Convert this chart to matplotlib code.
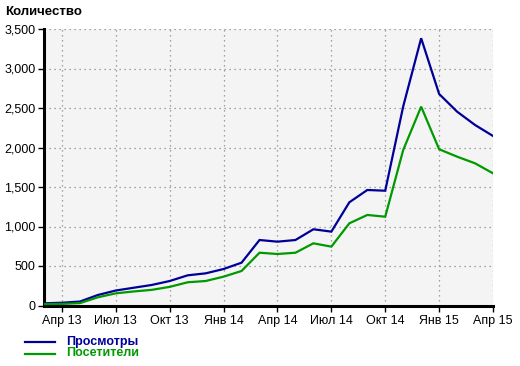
import matplotlib
matplotlib.use("Agg")
import matplotlib.pyplot as plt
from matplotlib.lines import Line2D
from matplotlib.ticker import FuncFormatter

plt.rcParams['font.family'] = ['Liberation Sans', 'DejaVu Sans']

# monthly points, Mar 2013 .. Apr 2015
months = ["Мар 13", "Апр 13", "Май 13", "Июн 13", "Июл 13", "Авг 13", "Сен 13", "Окт 13",
          "Ноя 13", "Дек 13", "Янв 14", "Фев 14", "Мар 14", "Апр 14", "Май 14", "Июн 14",
          "Июл 14", "Авг 14", "Сен 14", "Окт 14", "Ноя 14", "Дек 14", "Янв 15", "Фев 15",
          "Мар 15", "Апр 15"]
views = [28, 35, 50, 133, 190, 225, 260, 310, 382, 407, 462, 542, 829, 808, 829, 965,
         935, 1306, 1462, 1453, 2520, 3383, 2678, 2454, 2285, 2146]
visitors = [18, 20, 30, 104, 154, 178, 198, 236, 294, 310, 365, 437, 668, 652, 668, 787,
            745, 1040, 1146, 1124, 1968, 2517, 1978, 1884, 1800, 1673]
series_names = ["Просмотры", "Посетители"]
colors = ["#000099", "#009900"]
tick_labels = ["Апр 13", "Июл 13", "Окт 13", "Янв 14", "Апр 14", "Июл 14", "Окт 14", "Янв 15", "Апр 15"]
y_ticks = [0, 500, 1000, 1500, 2000, 2500, 3000, 3500]

W, H = 520, 366
fig = plt.figure(figsize=(W / 100, H / 100), dpi=100)
fig.patch.set_facecolor("white")
ax = fig.add_axes([44 / W, 1 - 305.5 / H, (493 - 44) / W, (305.5 - 29) / H])
ax.set_facecolor("#f4f4f4")

x = list(range(len(months)))
ax.plot(x, views, color=colors[0], lw=1.6, solid_joinstyle="miter", zorder=3)
ax.plot(x, visitors, color=colors[1], lw=1.6, solid_joinstyle="miter", zorder=3)

ax.set_xlim(0, len(months) - 1)
ax.set_ylim(0, 3500)
tick_pos = [months.index(t) for t in tick_labels]
ax.set_xticks(tick_pos)
ax.set_xticklabels(tick_labels)
ax.set_yticks(y_ticks)
ax.yaxis.set_major_formatter(FuncFormatter(lambda v, p: f"{int(v):,}"))
ax.grid(True, color="#888888", linestyle=(0, (1, 3)), lw=0.9)
for s in ["top", "right"]:
    ax.spines[s].set_visible(False)
for s in ["left", "bottom"]:
    ax.spines[s].set_linewidth(2.2)
    ax.spines[s].set_color("black")
ax.tick_params(axis="both", length=4, width=1, color="black", labelsize=9, pad=2)
ax.tick_params(axis="x", pad=3)

fig.text(5 / W, 1 - 12 / H, "Количество", fontsize=9.5, fontweight="bold", va="center", ha="left")

for i, (name, c) in enumerate(zip(series_names, colors)):
    yy = 1 - (342 + i * 11.5) / H
    fig.add_artist(Line2D([25 / W, 55 / W], [yy, yy], color=c, lw=1.6))
    fig.text(66 / W, yy, name, color=c, fontsize=9, fontweight="bold", va="center", ha="left")

fig.savefig("out.png", dpi=100)
